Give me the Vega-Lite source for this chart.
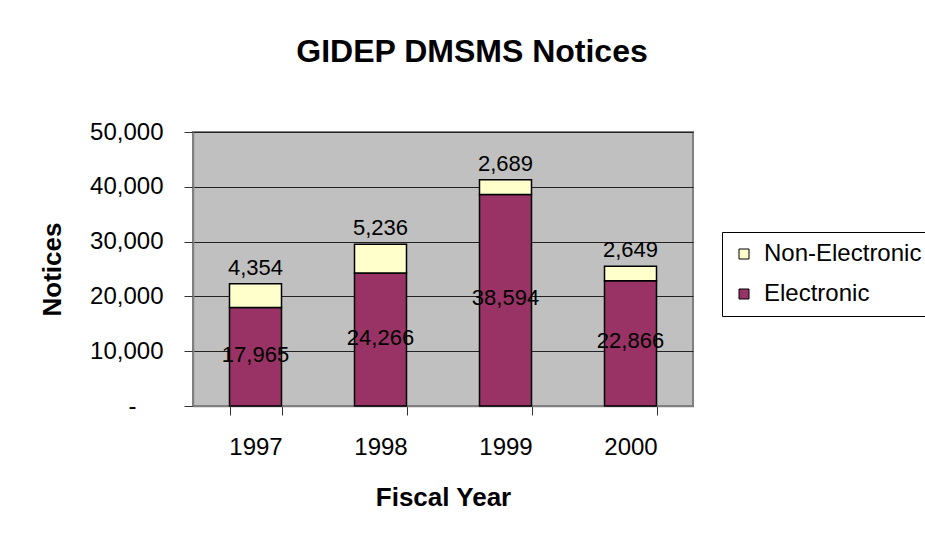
{
  "$schema": "https://vega.github.io/schema/vega-lite/v6.json",
  "autosize": {"type": "none"},
  "width": 500,
  "height": 274,
  "padding": {"left": 193, "top": 132, "right": 232, "bottom": 131},
  "background": "white",
  "title": {
    "text": "GIDEP DMSMS Notices",
    "font": "Liberation Sans",
    "fontSize": 32,
    "fontWeight": "bold",
    "color": "black",
    "anchor": "middle",
    "frame": "group",
    "baseline": "alphabetic",
    "offset": 26,
    "dx": 29
  },
  "config": {
    "font": "Liberation Sans",
    "view": {"fill": "#C0C0C0", "stroke": "#808080", "strokeWidth": 2},
    "axis": {
      "labelFont": "Liberation Sans",
      "titleFont": "Liberation Sans",
      "labelColor": "black",
      "titleColor": "black",
      "labelFontSize": 24,
      "titleFontSize": 26,
      "titleFontWeight": "bold",
      "domainColor": "#808080",
      "domainWidth": 1.5,
      "tickColor": "#333333",
      "tickWidth": 1,
      "tickSize": 9
    }
  },
  "data": {
    "values": [
      {"year": "1997", "category": "Electronic", "value": 17965},
      {"year": "1997", "category": "Non-Electronic", "value": 4354},
      {"year": "1998", "category": "Electronic", "value": 24266},
      {"year": "1998", "category": "Non-Electronic", "value": 5236},
      {"year": "1999", "category": "Electronic", "value": 38594},
      {"year": "1999", "category": "Non-Electronic", "value": 2689},
      {"year": "2000", "category": "Electronic", "value": 22866},
      {"year": "2000", "category": "Non-Electronic", "value": 2649}
    ]
  },
  "encoding": {
    "x": {
      "field": "year",
      "type": "ordinal",
      "scale": {"paddingInner": 0.584, "paddingOuter": 0.292},
      "axis": {
        "title": "Fiscal Year",
        "labelAngle": 0,
        "labelPadding": 20,
        "titlePadding": 25,
        "tickBand": "extent",
        "grid": false
      }
    }
  },
  "layer": [
    {
      "mark": {"type": "bar", "stroke": "black", "strokeWidth": 1.5},
      "encoding": {
        "y": {
          "field": "value",
          "type": "quantitative",
          "stack": "zero",
          "scale": {"domain": [0, 50000], "nice": false},
          "axis": {
            "title": "Notices",
            "values": [0, 10000, 20000, 30000, 40000, 50000],
            "labelExpr": "datum.value === 0 ? '-' : format(datum.value, ',')",
            "labelPadding": {"condition": {"test": "datum.value === 0", "value": 48}, "value": 21},
            "titlePadding": 24,
            "grid": true,
            "gridColor": "#222222",
            "gridWidth": 1,
            "gridOpacity": 1
          }
        },
        "color": {
          "field": "category",
          "type": "nominal",
          "scale": {"domain": ["Non-Electronic", "Electronic"], "range": ["#FFFFCC", "#993366"]},
          "legend": {
            "title": null,
            "orient": "none",
            "legendX": 529,
            "legendY": 100,
            "symbolType": "square",
            "symbolSize": 100,
            "symbolStrokeColor": "black",
            "symbolStrokeWidth": 1,
            "labelFontSize": 24,
            "labelFont": "Liberation Sans",
            "labelColor": "black",
            "labelOffset": 8,
            "rowPadding": 16,
            "padding": 10,
            "strokeColor": "black",
            "fillColor": "white"
          }
        },
        "order": {"field": "category", "sort": "ascending"}
      }
    },
    {
      "transform": [
        {"stack": "value", "groupby": ["year"], "sort": [{"field": "category", "order": "ascending"}], "as": ["v0", "v1"]},
        {"filter": "datum.category === 'Non-Electronic'"}
      ],
      "mark": {"type": "text", "fontSize": 22, "baseline": "alphabetic", "dy": -9, "color": "black"},
      "encoding": {
        "y": {"field": "v1", "type": "quantitative", "scale": {"domain": [0, 50000], "nice": false}, "axis": null},
        "text": {"field": "value", "type": "quantitative", "format": ","}
      }
    },
    {
      "transform": [{"filter": "datum.category === 'Electronic'"}],
      "mark": {"type": "text", "fontSize": 22, "baseline": "middle", "dy": -2, "color": "black"},
      "encoding": {
        "y": {"field": "value", "type": "quantitative", "scale": {"domain": [0, 100000], "nice": false}, "axis": null},
        "text": {"field": "value", "type": "quantitative", "format": ","}
      }
    }
  ],
  "resolve": {"scale": {"y": "independent"}}
}
